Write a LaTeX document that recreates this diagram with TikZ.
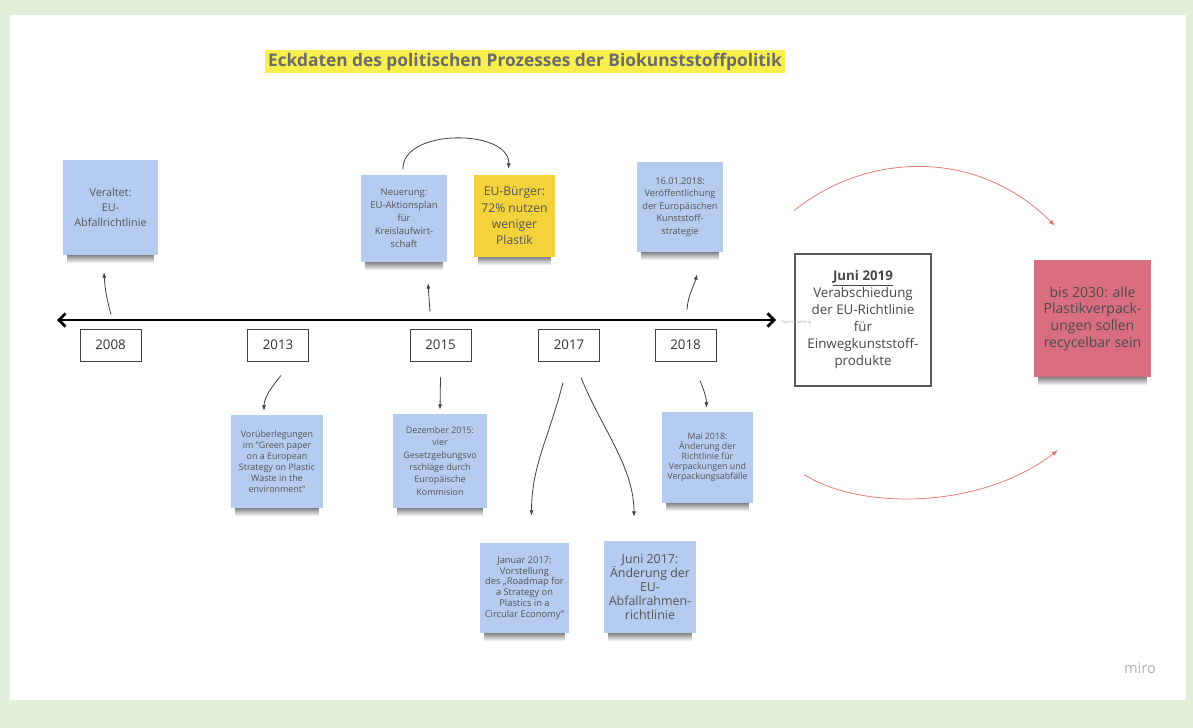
\documentclass[tikz,border=0pt]{standalone}
\usepackage{fontspec}
\setmainfont{Open Sans}
\usetikzlibrary{arrows.meta,calc}
\pgfdeclarelayer{bg}
\pgfsetlayers{bg,main}
\definecolor{bgg}{HTML}{E2EFD9}
\definecolor{stblue}{HTML}{B5CCF0}
\definecolor{styel}{HTML}{F3D23C}
\definecolor{stred}{HTML}{D96E80}
\definecolor{txt}{HTML}{555555}
\definecolor{hili}{HTML}{F8EE4C}
\definecolor{arcred}{HTML}{E6766C}
\tikzset{
  note/.style={fill=stblue, text=txt, align=center, inner sep=1pt},
  yearbox/.style={draw=black!75, line width=0.7pt, fill=white, text=black!80,
    minimum width=45.75pt, minimum height=24pt, inner sep=0pt, font=\fontsize{10}{12}\selectfont},
  conn/.style={draw=black!75, line width=0.6pt, -{Latex[length=4pt,width=3pt]}},
  redarc/.style={draw=arcred, line width=0.55pt, -{Latex[length=4.5pt,width=3.5pt]}},
}
% \sticky{name}{x1}{y1}{x2}{y2}{style}{text}
\newcommand{\sticky}[7]{%
  \node[#6, minimum width={(#4-#2)*0.75pt}, minimum height={(#5-#3)*0.75pt}] (#1) at ({(#2+#4)/2},{(#3+#5)/2}) {#7};
  \begin{pgfonlayer}{bg}
    \shade[top color=black!65, bottom color=white] ($(#1.south west)+(5,-3)$) rectangle ($(#1.south east)+(-5,8)$);
  \end{pgfonlayer}}
\begin{document}
\begin{tikzpicture}[x=0.75pt,y=-0.75pt]
\begin{pgfonlayer}{bg}
\fill[bgg] (0,0) rectangle (1193,728);
\fill[white] (10,15) rectangle (1186,700);
\end{pgfonlayer}
\useasboundingbox (0,0) rectangle (1193,728);

% title
\fill[hili] (265,50) rectangle (785,73);
\node[text=black!58, font=\fontsize{13}{15}\selectfont\bfseries, inner sep=0pt] (title) at (525,61.5) {Eckdaten des politischen Prozesses der Biokunststoffpolitik};

% timeline
\coordinate (tl) at (57,320);
\coordinate (tr) at (776,320);
\draw[line width=2pt, {Straight Barb[length=5pt,width=10pt,line width=2pt]}-{Straight Barb[length=5pt,width=10pt,line width=2pt]}] (tl) -- (tr);

% year boxes
\node[yearbox] (y08) at (110.5,345) {2008};
\node[yearbox] (y13) at (278,345) {2013};
\node[yearbox] (y15) at (440.5,345) {2015};
\node[yearbox] (y17) at (569,345) {2017};
\node[yearbox] (y18) at (685.5,345) {2018};

% sticky notes
\sticky{s08}{63}{160}{158}{255}{note, font=\fontsize{8.1}{11}\selectfont}{Veraltet:\\EU-\\Abfallrichtlinie}
\sticky{neu}{361}{175}{447}{262}{note, font=\fontsize{7.1}{9.75}\selectfont}{Neuerung:\\EU-Aktionsplan\\für\\Kreislaufwirt-\\schaft}
\sticky{bue}{474}{175}{555}{257}{note, fill=styel, font=\fontsize{9.1}{12.2}\selectfont}{EU-Bürger:\\72\% nutzen\\weniger\\Plastik}
\sticky{s18}{637}{162}{723}{252}{note, font=\fontsize{6.9}{9.4}\selectfont}{16.01.2018:\\Veröffentlichung\\der Europäischen\\Kunststoff-\\strategie}
\sticky{vor}{231}{415}{323}{508}{note, font=\fontsize{6.7}{8.3}\selectfont}{Vorüberlegungen\\im "Green paper\\on a European\\Strategy on Plastic\\Waste in the\\environment"}
\sticky{dez}{393}{414}{487}{508}{note, font=\fontsize{6.7}{9.25}\selectfont}{Dezember 2015:\\vier\\Gesetzgebungsvo\\rschläge durch\\Europäische\\Kommision}
\sticky{mai}{662}{412}{753}{503}{note, font=\fontsize{6.6}{7.6}\selectfont}{Mai 2018:\\Änderung der\\Richtlinie für\\Verpackungen und\\Verpackungsabfälle}
\sticky{jan}{480}{543}{569}{633}{note, font=\fontsize{7}{8.1}\selectfont}{Januar 2017:\\Vorstellung\\des „Roadmap for\\a Strategy on\\Plastics in a\\Circular Economy"}
\sticky{j17}{604}{541}{696}{633}{note, font=\fontsize{9.3}{10.6}\selectfont}{Juni 2017:\\Änderung der\\EU-\\Abfallrahmen-\\richtlinie}
\sticky{red}{1034}{260}{1151}{377}{note, fill=stred, text=black!70, font=\fontsize{10.5}{12.5}\selectfont}{bis 2030: alle\\Plastikverpack-\\ungen sollen\\recycelbar sein}

% Juni 2019 box
\node[draw=black!65, line width=1pt, fill=white, text=black!72, align=center, inner sep=0pt,
  minimum width=102pt, minimum height=99pt, font=\fontsize{10}{12.75}\selectfont] (j19) at (863,320)
  {\underline{\textbf{Juni 2019}}\\Verabschiedung\\der EU-Richtlinie\\für\\Einwegkunststoff-\\produkte};
\node[text=black!30, font=\fontsize{3}{4}\selectfont, anchor=west, inner sep=0pt] (ts) at (781,322) {Type something};

% connectors
\draw[conn] ($(y08.north)+(0.5,-14)$) to[bend left=6] ($(s08.south)+(-6.5,17)$);
\draw[conn] ($(y15.north)+(-10.5,-17)$) -- ($(neu.south)+(24,21)$);
\draw[conn] ($(y18.north)+(1.5,-19)$) .. controls +(1,-15) and +(-3,12) .. ($(s18.south)+(17,22)$);
\draw[conn] ($(neu.north)+(-1,-5)$) .. controls +(-2,-42) and +(2,-40) .. ($(bue.north)+(-6,-6)$);
\draw[conn] ($(y13.south)+(3,14)$) .. controls +(-8,10) and +(0,-14) .. ($(vor.north)+(-13,-4)$);
\draw[conn] ($(y15.south)+(0,16)$) -- ($(dez.north)+(0,-4)$);
\draw[conn] ($(y17.south)+(-6,21)$) .. controls +(-14,55) and +(0,-50) .. ($(jan.north)+(7,-27)$);
\draw[conn] ($(y17.south)+(12,16)$) .. controls +(20,50) and +(0,-50) .. ($(j17.north)+(-16,-24)$);
\draw[conn] ($(y18.south)+(14.5,19)$) .. controls +(4,10) and +(0,-10) .. ($(mai.north)+(-1,-4)$);

% red arcs
\draw[redarc] ($(j19.north west)+(0,-43)$) .. controls (870,150) and (980,150) .. ($(red.north west)+(21,-34)$);
\draw[redarc] ($(j19.south west)+(10,88)$) .. controls (860,510) and (980,510) .. ($(red.south west)+(24,73)$);

% miro
\node[text=black!30, font=\fontsize{11}{13}\selectfont, inner sep=0pt] (miro) at (1140,668) {miro};
\end{tikzpicture}
\end{document}
